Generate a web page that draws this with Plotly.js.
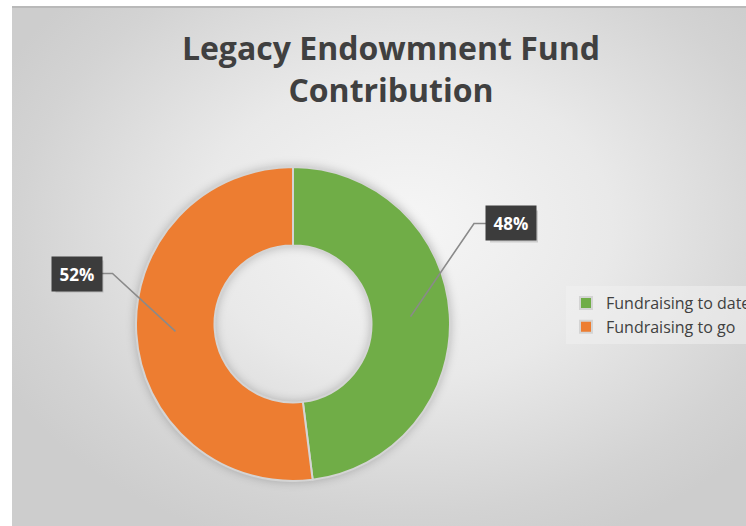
<!DOCTYPE html>
<html>
<head>
<meta charset="utf-8">
<script src="https://cdn.plot.ly/plotly-3.0.1.min.js"></script>
<style>
  html, body { margin: 0; padding: 0; background: #ffffff; width: 746px; height: 526px; overflow: hidden; }
  #bg { position: absolute; left: 12px; top: 6px; width: 760px; height: 520px;
        border-top: 2px solid #b9b9b9;
        background: radial-gradient(ellipse 60% 65% at 52% 42%, #f6f6f6 0%, #e9e9e9 45%, #d3d3d3 85%, #cdcdcd 100%); }
  #chart { position: absolute; left: 0; top: 0; width: 746px; height: 526px; }
  .pielayer { filter: drop-shadow(0px 0px 5px rgba(0,0,0,0.22)); }
</style>
</head>
<body>
<div id="bg"></div>
<div id="chart"></div>
<script>
// ---- data ----
const chartTitle = 'Legacy Endowmnent Fund<br>Contribution';
const labels = ['Fundraising to date', 'Fundraising to go'];
const values = [48, 52];
const colors = ['#70AD47', '#ED7D31'];

// ---- layout geometry (pixels) ----
const W = 746, H = 526;
const cx = 293, cy = 324, R = 157, holeFrac = 0.5;
const boxes = [ {x: 511, y: 223.5, side: 'left'}, {x: 76.5, y: 273.5, side: 'right'} ];
const boxW = 48, boxH = 32;

const px = x => x / W;
const py = y => 1 - y / H;

const total = values.reduce((a, b) => a + b, 0);
let cum = 0;
const shapes = [];
const annotations = [];
values.forEach((v, i) => {
  const frac = v / total;
  const mid = (cum + frac / 2) * 2 * Math.PI; // clockwise from 12 o'clock
  cum += frac;
  const rMid = R * (1 + holeFrac) / 2;
  const ax = cx + rMid * Math.sin(mid);
  const ay = cy - rMid * Math.cos(mid);
  const b = boxes[i];
  const edgeX = b.side === 'left' ? b.x - boxW / 2 : b.x + boxW / 2;
  const elbowX = b.side === 'left' ? edgeX - 13 : edgeX + 12;
  shapes.push({
    type: 'path', xref: 'paper', yref: 'paper',
    path: `M ${px(ax)} ${py(ay)} L ${px(elbowX)} ${py(b.y)} L ${px(edgeX)} ${py(b.y)}`,
    line: {color: '#8a8a8a', width: 1.6}
  });
  // box shadow
  shapes.push({
    type: 'rect', xref: 'paper', yref: 'paper',
    x0: px(b.x - boxW / 2 + 3), x1: px(b.x + boxW / 2 + 3),
    y0: py(b.y + boxH / 2 + 3), y1: py(b.y - boxH / 2 + 3),
    fillcolor: 'rgba(0,0,0,0.14)', line: {width: 0}
  });
  const pct = Math.round(frac * 100) + '%';
  annotations.push({
    xref: 'paper', yref: 'paper', x: px(b.x), y: py(b.y),
    xanchor: 'center', yanchor: 'middle', showarrow: false,
    text: pct, width: boxW, height: boxH, bgcolor: '#3c3c3c',
    font: {family: 'Open Sans', size: 17, color: '#ffffff', weight: 700}
  });
});

const trace = {
  type: 'pie',
  labels: labels,
  values: values,
  hole: holeFrac,
  sort: false,
  direction: 'clockwise',
  rotation: 0,
  textinfo: 'none',
  hoverinfo: 'none',
  marker: {colors: colors, line: {color: '#d4d4d4', width: 2}},
  domain: {x: [px(cx - R), px(cx + R)], y: [py(cy + R), py(cy - R)]}
};

const layout = {
  width: W, height: H,
  margin: {l: 0, r: 0, t: 0, b: 0, autoexpand: false},
  paper_bgcolor: 'rgba(0,0,0,0)',
  plot_bgcolor: 'rgba(0,0,0,0)',
  font: {family: 'Open Sans', color: '#404040'},
  title: {
    text: chartTitle,
    x: px(391), xanchor: 'center', xref: 'paper',
    y: py(60), yanchor: 'top', yref: 'paper',
    font: {family: 'Open Sans', size: 32, color: '#404040', weight: 700}
  },
  showlegend: true,
  legend: {
    x: px(566), xanchor: 'left', y: py(286), yanchor: 'top',
    bgcolor: 'rgba(240,240,240,0.55)',
    font: {family: 'Open Sans', size: 16, color: '#404040'},
    traceorder: 'normal'
  },
  shapes: shapes,
  annotations: annotations
};

Plotly.newPlot('chart', [trace], layout, {displayModeBar: false, staticPlot: true});
</script>
</body>
</html>
